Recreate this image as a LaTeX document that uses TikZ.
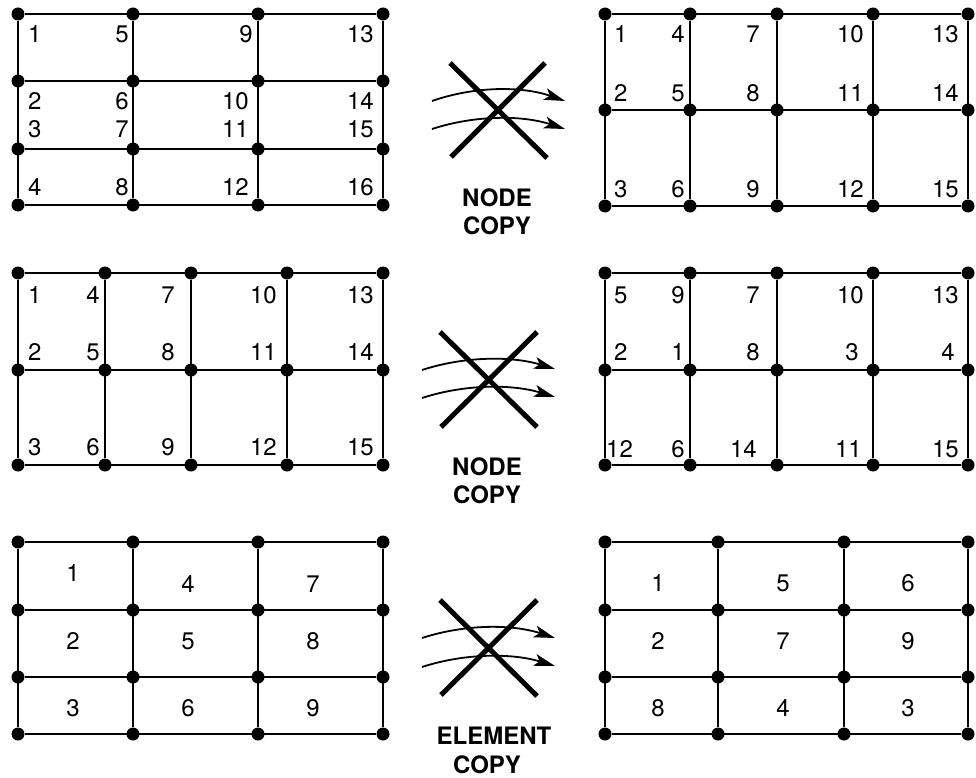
\documentclass[tikz,border=0pt]{standalone}
\usepackage{fontspec}
\setmainfont{TeX Gyre Heros}
\usetikzlibrary{arrows.meta}
\newcommand\meshdots[3]{%
  \foreach \xx [count=\ii] in {#2} {
    \foreach \yy [count=\jj] in {#3} {
      \node[dot] (#1-\ii-\jj) at (\xx,\yy) {};
    }
  }%
}
\tikzset{
  dot/.style={circle,fill=black,inner sep=0pt,minimum size=13pt},
  meshline/.style={line width=2pt},
  lbl/.style={inner sep=0pt,font=\fontsize{24}{24}\selectfont},
  captxt/.style={inner sep=0pt,font=\fontsize{24}{24}\selectfont\bfseries},
  crossline/.style={line width=5pt},
  flow/.style={line width=1.8pt,-{Stealth[length=21pt,width=12pt,inset=5pt]}}
}
\begin{document}
\begin{tikzpicture}[x=1pt,y=-1pt]
\useasboundingbox (0,0) rectangle (976,778);

% ---------- Grid A (top left) ----------
\meshdots{A}{18,133,258,383}{14,81,149,205}
\foreach \j in {1,...,4} \draw[meshline] (A-1-\j) -- (A-4-\j);
\foreach \i in {1,...,4} \draw[meshline] (A-\i-1) -- (A-\i-4);
\foreach \t/\x/\y in {1/28/43,2/28/110,3/28/138,4/28/196}
  \node[lbl,anchor=base west] (A-l\t) at (\x,\y) {\t};
\foreach \t/\x/\y in {5/129/43,6/129/110,7/129/138,8/129/196,9/253/43,10/249/110,11/249/138,12/249/196,13/374/43,14/374/110,15/374/138,16/374/196}
  \node[lbl,anchor=base east] (A-l\t) at (\x,\y) {\t};

% ---------- Grid B (top right) ----------
\meshdots{B}{605,690,777,873,968}{14,110,206}
\foreach \j in {1,...,3} \draw[meshline] (B-1-\j) -- (B-5-\j);
\foreach \i in {1,...,5} \draw[meshline] (B-\i-1) -- (B-\i-3);
\foreach \t/\x/\y in {1/614/43,2/614/102,3/614/197}
  \node[lbl,anchor=base west] (B-l\t) at (\x,\y) {\t};
\foreach \t/\x/\y in {4/685/43,5/685/102,6/685/197,7/760/43,8/760/102,9/760/197,10/864/43,11/864/102,12/864/197,13/959/43,14/959/102,15/959/197}
  \node[lbl,anchor=base east] (B-l\t) at (\x,\y) {\t};

% ---------- Grid C (middle left) ----------
\meshdots{C}{18,105,191,287,383}{273,370,465}
\foreach \j in {1,...,3} \draw[meshline] (C-1-\j) -- (C-5-\j);
\foreach \i in {1,...,5} \draw[meshline] (C-\i-1) -- (C-\i-3);
\foreach \t/\x/\y in {1/28/303,2/28/360,3/28/455}
  \node[lbl,anchor=base west] (C-l\t) at (\x,\y) {\t};
\foreach \t/\x/\y in {4/100/303,5/100/360,6/100/455,7/175/303,8/175/360,9/175/455,10/277/303,11/277/360,12/277/455,13/374/303,14/374/360,15/374/455}
  \node[lbl,anchor=base east] (C-l\t) at (\x,\y) {\t};

% ---------- Grid D (middle right) ----------
\meshdots{D}{605,690,777,873,968}{273,370,465}
\foreach \j in {1,...,3} \draw[meshline] (D-1-\j) -- (D-5-\j);
\foreach \i in {1,...,5} \draw[meshline] (D-\i-1) -- (D-\i-3);
\foreach \t/\x/\y in {5/614/303,2/614/360,12/606/457}
  \node[lbl,anchor=base west] (D-l\t) at (\x,\y) {\t};
\foreach \t/\x/\y in {9/685/303,1/685/360,6/685/457,7/760/303,8/760/360,14/757/457,10/864/303,3/859/360,11/862/457,13/959/303,4/955/360,15/959/457}
  \node[lbl,anchor=base east] (D-l\t) at (\x,\y) {\t};

% ---------- Grid E (bottom left) ----------
\meshdots{E}{18,133,258,383}{542,610,677,734}
\foreach \j in {1,...,4} \draw[meshline] (E-1-\j) -- (E-4-\j);
\foreach \i in {1,...,4} \draw[meshline] (E-\i-1) -- (E-\i-4);
\foreach \t/\x/\y in {1/73/573,4/188/584,7/313/584,2/73/641,5/188/641,8/313/641,3/73/708,6/188/708,9/313/708}
  \node[lbl] (E-l\t) at (\x,\y) {\t};

% ---------- Grid F (bottom right) ----------
\meshdots{F}{605,718,844,968}{542,610,677,734}
\foreach \j in {1,...,4} \draw[meshline] (F-1-\j) -- (F-4-\j);
\foreach \i in {1,...,4} \draw[meshline] (F-\i-1) -- (F-\i-4);
\foreach \t/\x/\y in {1/658/583,5/783/583,6/908/583,2/658/641,7/783/641,9/908/641,8/658/708,4/783/708,3/908/708}
  \node[lbl] (F-l\t) at (\x,\y) {\t};

% ---------- Crossed arrows 1 ----------
\coordinate (p1s) at (432,101); \coordinate (p1e) at (565,101);
\coordinate (q1s) at (432,129); \coordinate (q1e) at (565,129);
\draw[flow] (p1s) .. controls (475,86) and (522,86) .. (p1e);
\draw[flow] (q1s) .. controls (475,115) and (522,115) .. (q1e);
\coordinate (x1a) at (450,63); \coordinate (x1b) at (547,158);
\coordinate (x1c) at (545,63); \coordinate (x1d) at (451,157);
\draw[crossline] (x1a) -- (x1b);
\draw[crossline] (x1c) -- (x1d);
\node[captxt,anchor=base] (t1a) at (497,206) {NODE};
\node[captxt,anchor=base] (t1b) at (497,234) {COPY};

% ---------- Crossed arrows 2 ----------
\coordinate (p2s) at (422,370); \coordinate (p2e) at (555,369);
\coordinate (q2s) at (422,398); \coordinate (q2e) at (555,397);
\draw[flow] (p2s) .. controls (465,356) and (512,356) .. (p2e);
\draw[flow] (q2s) .. controls (465,384) and (512,384) .. (q2e);
\coordinate (x2a) at (440,332); \coordinate (x2b) at (537,427);
\coordinate (x2c) at (537,332); \coordinate (x2d) at (441,427);
\draw[crossline] (x2a) -- (x2b);
\draw[crossline] (x2c) -- (x2d);
\node[captxt,anchor=base] (t2a) at (487,475) {NODE};
\node[captxt,anchor=base] (t2b) at (487,503) {COPY};

% ---------- Crossed arrows 3 ----------
\coordinate (p3s) at (422,638); \coordinate (p3e) at (555,638);
\coordinate (q3s) at (422,667); \coordinate (q3e) at (555,666);
\draw[flow] (p3s) .. controls (465,624) and (512,624) .. (p3e);
\draw[flow] (q3s) .. controls (465,653) and (512,653) .. (q3e);
\coordinate (x3a) at (440,600); \coordinate (x3b) at (537,696);
\coordinate (x3c) at (537,600); \coordinate (x3d) at (441,695);
\draw[crossline] (x3a) -- (x3b);
\draw[crossline] (x3c) -- (x3d);
\node[captxt,anchor=base] (t3a) at (494,744) {ELEMENT};
\node[captxt,anchor=base] (t3b) at (487,773) {COPY};
\end{tikzpicture}
\end{document}
